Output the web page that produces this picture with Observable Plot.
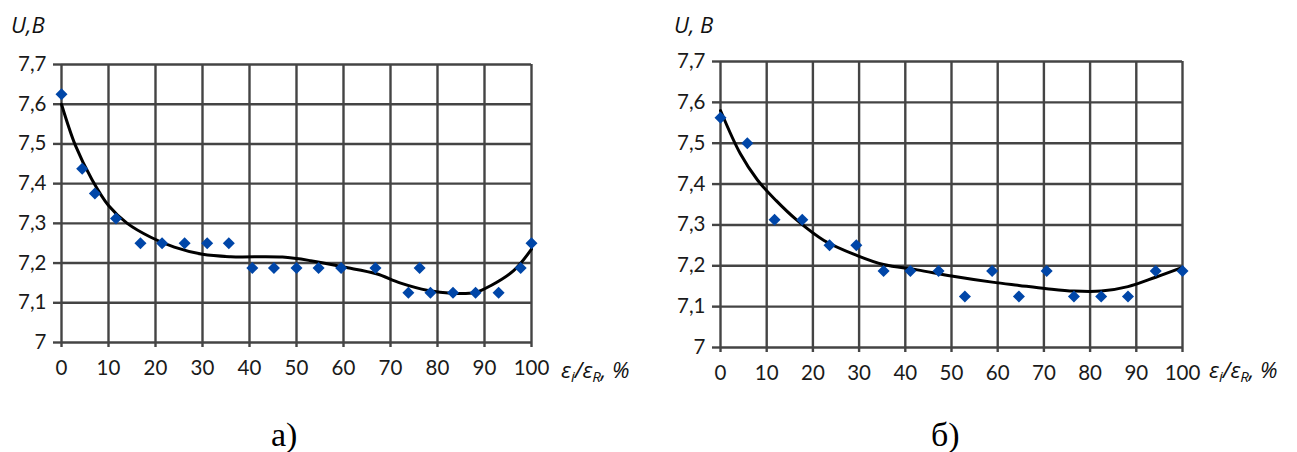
<!DOCTYPE html>
<html>
<head>
<meta charset="utf-8">
<script src="https://cdn.jsdelivr.net/npm/d3@7"></script>
<script src="https://cdn.jsdelivr.net/npm/@observablehq/plot@0.6"></script>
<style>
  html, body { margin: 0; padding: 0; background: #fff; }
  #wrap { position: relative; width: 1297px; height: 452px; overflow: hidden; }
  #wrap > svg, #wrap > figure { position: absolute; top: 0; margin: 0; }
  #wrap svg.panel text { font-size: 20.5px !important; font-family: Lato, 'Open Sans', sans-serif !important; }
  #overlay { position: absolute; left: 0; top: 0; pointer-events: none; }
</style>
</head>
<body>
<div id="wrap"></div>
<script>
// ---- data ----
const xTicks = [0, 10, 20, 30, 40, 50, 60, 70, 80, 90, 100];
const yTicks = [7, 7.1, 7.2, 7.3, 7.4, 7.5, 7.6, 7.7];
const yTickLabels = ["7", "7,1", "7,2", "7,3", "7,4", "7,5", "7,6", "7,7"];

// chart a) measured points
const aX = [0, 4.4, 7.1, 11.6, 16.8, 21.4, 26.2, 31, 35.6, 40.6, 45.2, 50, 54.7, 59.5, 66.8, 73.8, 76.2, 78.5, 83.3, 88.1, 93, 97.7, 100];
const aU = [7.625, 7.4375, 7.375, 7.3125, 7.25, 7.25, 7.25, 7.25, 7.25, 7.1875, 7.1875, 7.1875, 7.1875, 7.1875, 7.1875, 7.125, 7.1875, 7.125, 7.125, 7.125, 7.125, 7.1875, 7.25];
// chart a) trend line (read off the picture)
const aTrendX = [0, 3, 6.5, 10, 14, 19, 24, 30, 36, 47, 53, 60, 67, 72, 78, 83, 88, 91.3, 96.2, 100];
const aTrendU = [7.60, 7.495, 7.41, 7.345, 7.30, 7.265, 7.24, 7.222, 7.216, 7.215, 7.206, 7.19, 7.173, 7.150, 7.131, 7.124, 7.126, 7.143, 7.181, 7.235];

// chart б) measured points
const bX = [0, 5.8, 11.7, 17.7, 23.6, 29.4, 35.3, 41.1, 47.2, 52.9, 58.8, 64.6, 70.6, 76.5, 82.4, 88.2, 94.2, 100];
const bU = [7.5625, 7.5, 7.3125, 7.3125, 7.25, 7.25, 7.1875, 7.1875, 7.1875, 7.125, 7.1875, 7.125, 7.1875, 7.125, 7.125, 7.125, 7.1875, 7.1875];
// chart б) trend line
const bTrendX = [0, 4.3, 8, 12, 16.6, 22.4, 29.6, 35.3, 42.6, 50, 58.8, 64.6, 70.6, 76.5, 82.4, 88.2, 94.2, 100];
const bTrendU = [7.58, 7.474, 7.41, 7.36, 7.311, 7.262, 7.225, 7.203, 7.19, 7.175, 7.16, 7.152, 7.144, 7.138, 7.138, 7.149, 7.172, 7.196];

const gridColor = "#444444";
const dotColor = "#0046a8";

function table(xs, ys) { return xs.map((x, i) => ({x, y: ys[i]})); }
const yLabelOf = v => yTickLabels[yTicks.findIndex(t => Math.abs(t - v) < 1e-9)];

function chart(points, trend, opts) {
  return Plot.plot({
    className: "panel",
    width: opts.width,
    height: 400,
    marginLeft: opts.ml,
    marginRight: opts.mr,
    marginTop: opts.mt,
    marginBottom: opts.mb,
    style: {fontFamily: "Lato, 'Open Sans', sans-serif", fontSize: "20px", background: "transparent", overflow: "visible"},
    x: {domain: [0, 100]},
    y: {domain: [7, 7.7]},
    marks: [
      Plot.gridX(xTicks, {stroke: gridColor, strokeOpacity: 1, strokeWidth: 2.4}),
      Plot.gridY(yTicks, {stroke: gridColor, strokeOpacity: 1, strokeWidth: 2.4}),
      Plot.axisY(yTicks, {tickFormat: yLabelOf, tickSize: 8, tickPadding: 7, stroke: gridColor, strokeWidth: 2.4, fill: "#1a1a1a", label: null}),
      Plot.axisX(xTicks, {tickFormat: d => String(d), tickSize: 5, tickPadding: 13, stroke: gridColor, strokeWidth: 2.4, fill: "#1a1a1a", label: null}),
      Plot.line(trend, {x: "x", y: "y", curve: "catmull-rom", stroke: "#000", strokeWidth: 3}),
      Plot.dot(points, {x: "x", y: "y", symbol: "square", r: 4.8, rotate: 45, fill: dotColor, stroke: "none"})
    ]
  });
}

const wrap = document.getElementById("wrap");
const left = chart(table(aX, aU), table(aTrendX, aTrendU), {width: 640, ml: 61, mr: 109, mt: 64, mb: 58});
left.style.left = "0px";
wrap.appendChild(left);
const right = chart(table(bX, bU), table(bTrendX, bTrendU), {width: 637, ml: 60, mr: 115, mt: 61, mb: 53});
right.style.left = "660px";
wrap.appendChild(right);

// axis titles and panel captions
const ns = "http://www.w3.org/2000/svg";
const ov = document.createElementNS(ns, "svg");
ov.setAttribute("id", "overlay");
ov.setAttribute("width", 1297);
ov.setAttribute("height", 452);
ov.innerHTML = `
  <g font-family="'Open Sans', Lato, sans-serif" font-style="italic" fill="#111" font-size="22">
    <text x="11" y="33">U,B</text>
    <text x="674" y="33">U, B</text>
    <text x="561" y="378">ε<tspan font-size="15" dy="4">i</tspan><tspan dy="-4">/ε</tspan><tspan font-size="15" dy="4">R</tspan><tspan dy="-4">, %</tspan></text>
    <text x="1209" y="378">ε<tspan font-size="15" dy="4">i</tspan><tspan dy="-4">/ε</tspan><tspan font-size="15" dy="4">R</tspan><tspan dy="-4">, %</tspan></text>
  </g>
  <g font-family="'Liberation Serif', 'DejaVu Serif', serif" fill="#000" font-size="34">
    <text x="271" y="446">а)</text>
    <text x="931" y="446">б)</text>
  </g>`;
wrap.appendChild(ov);
</script>
</body>
</html>
